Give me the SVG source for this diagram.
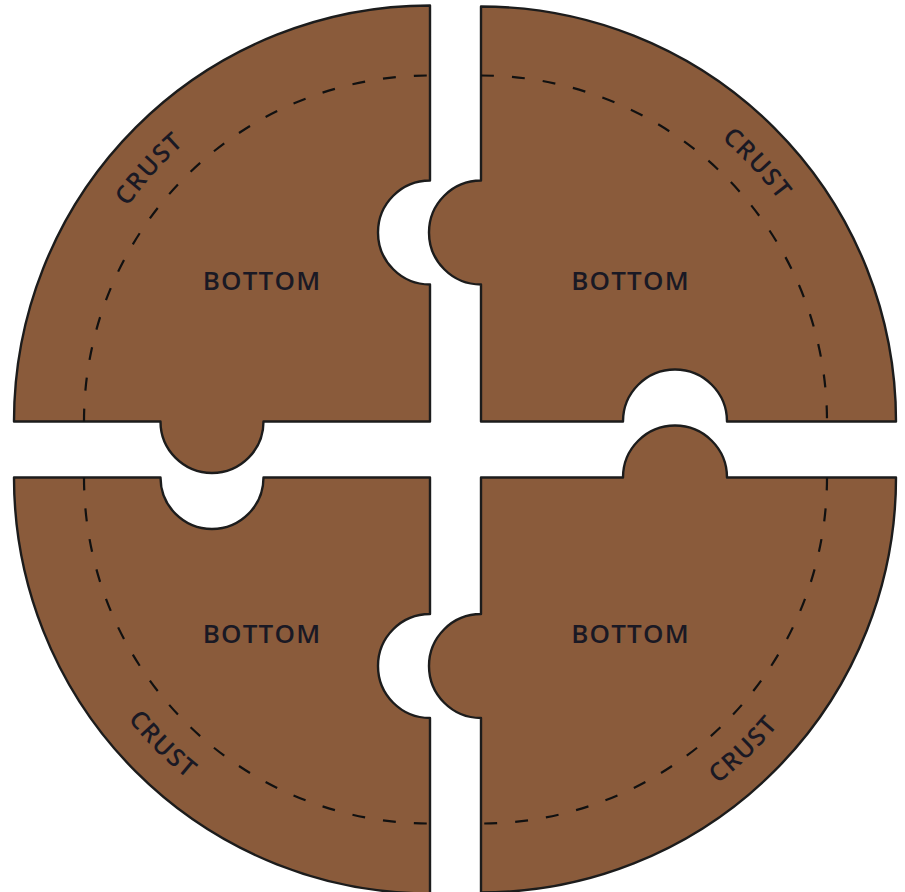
<svg xmlns="http://www.w3.org/2000/svg" width="905" height="892" viewBox="0 0 905 892">
  <style>
    .piece { fill: #8A5B3B; stroke: #1c1c1c; stroke-width: 2.4; stroke-linejoin: round; }
    .dash { fill: none; stroke: #111; stroke-width: 2.2; stroke-dasharray: 13 18; }
    .lbl { font-family: "Open Sans", "Liberation Sans", Arial, sans-serif; font-weight: 600; font-size: 26px; fill: #1a1924; letter-spacing: 1.2px; text-anchor: middle; }
    .crust { font-family: "Open Sans", "Liberation Sans", Arial, sans-serif; font-weight: 600; font-size: 25px; fill: #1a1924; letter-spacing: 1.5px; text-anchor: middle; }
  </style>
  <defs>
    <path id="arcTL" d="M67.1,344.4 A371,371 0 0 1 315.4,68.6"/>
    <path id="arcTR" d="M589.5,66.7 A371,371 0 0 1 842.5,338.0"/>
    <path id="arcBL" d="M56.2,577.7 A387,387 0 0 0 329.8,851.3"/>
    <path id="arcBR" d="M574.6,853 A387,387 0 0 0 853,584.2"/>
  </defs>
  <rect width="905" height="892" fill="#ffffff"/>

  <g id="piece-top-left">
    <path class="piece" d="M430,5.5 L430,180.5 A52,52 0 0 0 430,284.5 L430,421.5 L263.5,421.5 A51.5,51.5 0 0 1 160.5,421.5 L14,421.5 A416,416 0 0 1 430,5.5 Z"/>
    <path class="dash" d="M84,421.5 A346,346 0 0 1 430,75.5"/>
    <text class="lbl" x="262" y="289.5">BOTTOM</text>
    <text class="crust"><textPath href="#arcTL" startOffset="50%">CRUST</textPath></text>
  </g>

  <g id="piece-top-right">
    <path class="piece" d="M481,6.5 A415,415 0 0 1 896,421.5 L727,421.5 A52,52 0 0 0 623,421.5 L481,421.5 L481,284.5 A52,52 0 0 1 481,180.5 Z"/>
    <path class="dash" d="M481,75.5 A346,346 0 0 1 827,421.5"/>
    <text class="lbl" x="630.5" y="289.5">BOTTOM</text>
    <text class="crust"><textPath href="#arcTR" startOffset="50%">CRUST</textPath></text>
  </g>

  <g id="piece-bottom-left">
    <path class="piece" d="M14,477.5 L160.5,477.5 A51.5,51.5 0 0 0 263.5,477.5 L430,477.5 L430,614 A52,52 0 0 0 430,718 L430,893.5 A416,416 0 0 1 14,477.5 Z"/>
    <path class="dash" d="M84,477.5 A346,346 0 0 0 430,823.5"/>
    <text class="lbl" x="262" y="642.5">BOTTOM</text>
    <text class="crust"><textPath href="#arcBL" startOffset="50%">CRUST</textPath></text>
  </g>

  <g id="piece-bottom-right">
    <path class="piece" d="M481,477.5 L623,477.5 A52,52 0 0 1 727,477.5 L896,477.5 A415,415 0 0 1 481,892.5 L481,718 A52,52 0 0 1 481,614 Z"/>
    <path class="dash" d="M827,477.5 A346,346 0 0 1 481,823.5"/>
    <text class="lbl" x="630.5" y="642.5">BOTTOM</text>
    <text class="crust"><textPath href="#arcBR" startOffset="50%">CRUST</textPath></text>
  </g>

  <g id="connectors"></g>
</svg>
